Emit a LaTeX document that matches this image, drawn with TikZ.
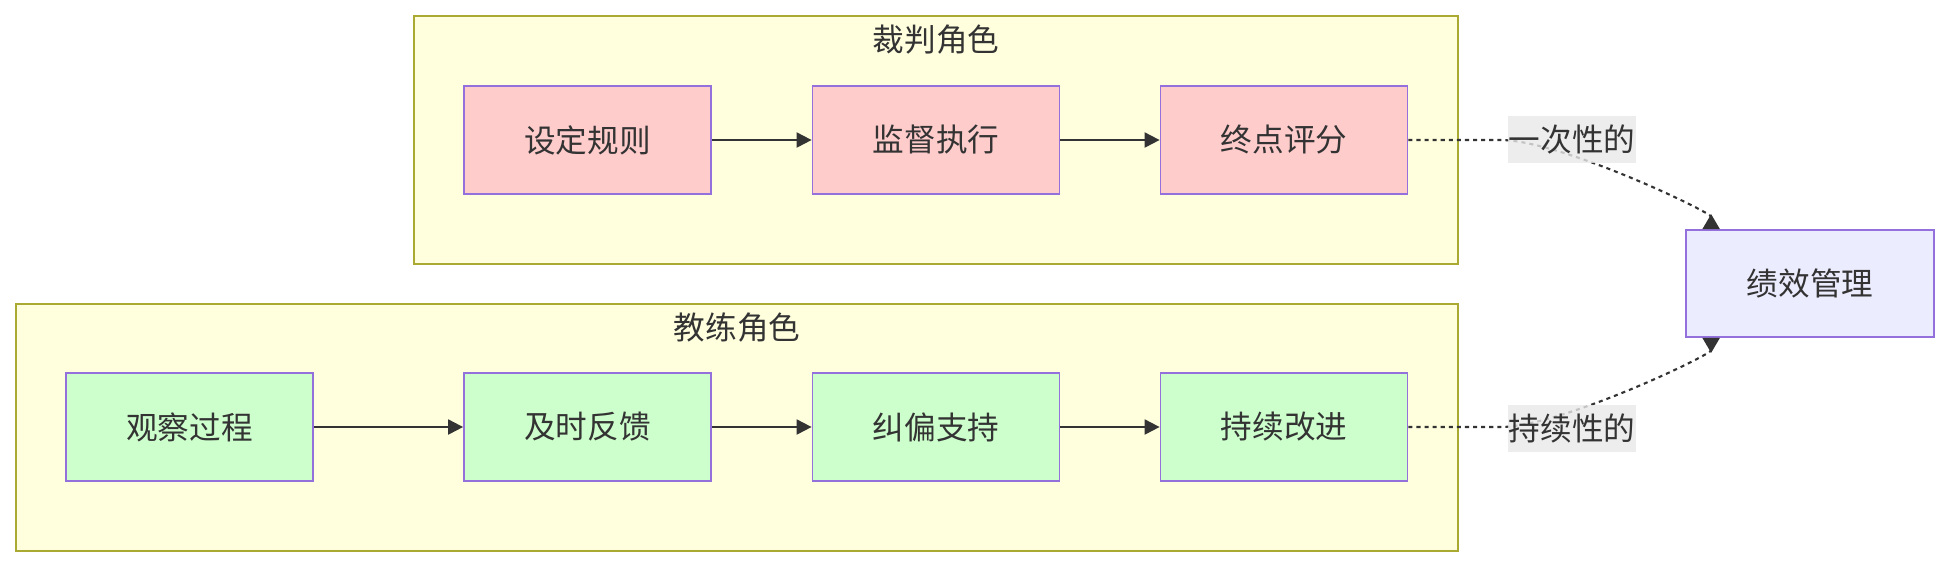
\documentclass[tikz,border=0pt]{standalone}
\usepackage{fontspec}
\setmainfont{Noto Sans CJK SC}
\usepackage{tikz}
\usetikzlibrary{arrows.meta}
\definecolor{groupfill}{HTML}{FFFFDE}
\definecolor{groupline}{HTML}{AAAA33}
\definecolor{boxline}{HTML}{9370DB}
\definecolor{judgepink}{HTML}{FFCCCC}
\definecolor{coachgreen}{HTML}{CCFFCC}
\definecolor{perfblue}{HTML}{ECECFF}
\definecolor{taggray}{HTML}{E8E8E8}
\definecolor{inkgray}{HTML}{333333}

\begin{document}
\begin{tikzpicture}[
  rolegroup/.style={draw=groupline, fill=groupfill, line width=1.1pt, inner sep=0pt},
  grouptitle/.style={text=inkgray, font=\fontsize{18}{22}\selectfont},
  box/.style={draw=boxline, line width=1pt, minimum width=4.94cm,
              minimum height=2.16cm, inner sep=0pt, text=inkgray,
              font=\fontsize{18}{22}\selectfont},
  judge/.style={box, fill=judgepink},
  coach/.style={box, fill=coachgreen},
  flow/.style={-{Triangle[length=3mm, width=3mm]}, line width=1.1pt, draw=inkgray},
  link/.style={-{Triangle[reversed, length=3mm, width=3.4mm]}, line width=1.2pt,
               draw=inkgray, dash pattern=on 2.3pt off 2.3pt},
  edgetag/.style={fill=taggray, fill opacity=0.8, text opacity=1, text=inkgray,
                  minimum width=2.56cm, minimum height=0.94cm, inner sep=0pt,
                  font=\fontsize{18}{22}\selectfont}
]
  \useasboundingbox (0,0) rectangle (39,-11.36);
  % the two role groups
  \node[rolegroup, minimum width=20.88cm, minimum height=4.96cm] (judgegrp) at (18.72,-2.80) {};
  \node[grouptitle] (judgettl) at (18.72,-0.80) {裁判角色};
  \node[rolegroup, minimum width=28.84cm, minimum height=4.94cm] (coachgrp) at (14.74,-8.55) {};
  \node[grouptitle] (coachttl) at (14.74,-6.56) {教练角色};

  \node[judge] (rules) at (11.75,-2.80) {设定规则};
  \node[judge] (watch) at (18.72,-2.80) {监督执行};
  \node[judge] (score) at (25.68,-2.80) {终点评分};

  \node[coach] (observe) at (3.79,-8.54) {观察过程};
  \node[coach] (feedback) at (11.75,-8.54) {及时反馈};
  \node[coach] (correct) at (18.72,-8.54) {纠偏支持};
  \node[coach] (improve) at (25.68,-8.54) {持续改进};

  \node[box, fill=perfblue, minimum width=4.96cm, minimum height=2.14cm] (perf) at (36.20,-5.67) {绩效管理};

  \draw[flow] (rules) -- (watch);
  \draw[flow] (watch) -- (score);
  \draw[flow] (observe) -- (feedback);
  \draw[flow] (feedback) -- (correct);
  \draw[flow] (correct) -- (improve);

  \draw[link] (score.east) -- ++(1.84,0)
    .. controls +(1.2,0) and +(0,0.34) .. ([xshift=0.52cm]perf.north west);
  \draw[link] (improve.east) -- ++(1.84,0)
    .. controls +(1.2,0) and +(0,-0.34) .. ([xshift=0.52cm]perf.south west);
  \node[edgetag] (oncetag) at (31.44,-2.79) {一次性的};
  \node[edgetag] (ongoingtag) at (31.44,-8.56) {持续性的};
\end{tikzpicture}
\end{document}
